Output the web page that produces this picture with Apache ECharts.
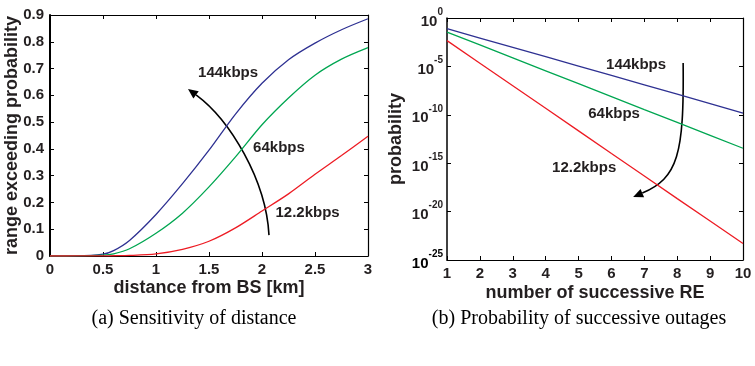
<!DOCTYPE html>
<html>
<head>
<meta charset="utf-8">
<script src="https://cdn.jsdelivr.net/npm/echarts@6/dist/echarts.min.js"></script>
<style>
html,body{margin:0;padding:0;background:#fff;}
#c{width:755px;height:366px;}
#err{position:absolute;left:0;top:340px;font:10px monospace;color:#c00;width:755px;}
</style>
</head>
<body>
<div id="c"></div>
<div id="err"></div>
<script>
window.onerror = function (m, s, l, c, e) { document.getElementById('err').textContent += ' ERR: ' + m + ' @' + l + ':' + c; };
// ---- Panel (a): range exceeding probability vs distance ----
var distKm = [0, 0.25, 0.5, 0.6, 0.75, 1, 1.25, 1.5, 1.75, 2, 2.25, 2.5, 2.75, 3];
var probA144 = [0, 0.0005, 0.007, 0.02, 0.058, 0.155, 0.27, 0.395, 0.53, 0.645, 0.733, 0.795, 0.845, 0.886];
var probA64  = [0, 0.0002, 0.003, 0.008, 0.027, 0.085, 0.16, 0.258, 0.37, 0.49, 0.59, 0.675, 0.735, 0.778];
var probA122 = [0, 0.0001, 0.0005, 0.001, 0.002, 0.008, 0.025, 0.055, 0.105, 0.168, 0.232, 0.305, 0.375, 0.447];

// ---- Panel (b): probability vs number of successive RE ----
var numRE = [1, 2, 3, 4, 5, 6, 7, 8, 9, 10];
var probB144 = [7.9e-2, 8.5e-3, 9.1e-4, 1.0e-4, 1.07e-5, 1.15e-6, 1.26e-7, 1.35e-8, 1.41e-9, 1.48e-10];
var probB64  = [3.5e-2, 1.66e-3, 7.6e-5, 3.5e-6, 1.66e-7, 7.6e-9, 3.5e-10, 1.66e-11, 7.6e-13, 3.5e-14];
var probB122 = [4.6e-3, 2.1e-5, 1.0e-7, 4.7e-10, 2.2e-12, 1.0e-14, 4.8e-17, 2.2e-19, 1.07e-21, 5.0e-24];
var logMin = 1e-25;

var seriesNames = ['144kbps', '64kbps', '12.2kbps'];
var captions = ['(a) Sensitivity of distance', '(b) Probability of successive outages'];

function pairs(xs, ys) { return xs.map(function (x, i) { return [x, ys[i]]; }); }

var colors = ['#2e3192', '#00a651', '#ed1c24'];
var FONT = "'Liberation Sans', Arial, sans-serif";
var TXT = '#231f20';

var tickStyle = { show: true, inside: true, length: 4, lineStyle: { color: '#000', width: 1 } };
function axLine(w) { return { show: true, onZero: false, lineStyle: { color: '#000', width: w || 1.2 } }; }
var lblStyle = { color: TXT, fontFamily: FONT, fontWeight: 'bold', fontSize: 15 };
var nameStyle = { color: TXT, fontFamily: FONT, fontWeight: 'bold', fontSize: 18 };
var supRich = {
  b: { color: TXT, fontFamily: FONT, fontWeight: 'bold', fontSize: 15, lineHeight: 22, verticalAlign: 'bottom' },
  s: { color: TXT, fontFamily: FONT, fontWeight: 'bold', fontSize: 10, lineHeight: 22, verticalAlign: 'top' }
};
function powLabel(e) { return '{b|10}{s|' + e + '}'; }

var chart = echarts.init(document.getElementById('c'));

var option = {
  animation: false,
  backgroundColor: '#fff',
  grid: [
    { left: 50, top: 15, width: 318, height: 241, outerBoundsMode: 'none' },
    { left: 447, top: 18, width: 296, height: 242, outerBoundsMode: 'none' }
  ],
  xAxis: [
    { gridIndex: 0, type: 'value', min: 0, max: 3, interval: 0.5, position: 'bottom',
      axisLine: axLine(), axisTick: tickStyle, splitLine: { show: false },
      axisLabel: Object.assign({ margin: 6 }, lblStyle),
      name: 'distance from BS [km]', nameLocation: 'middle', nameGap: 23, nameMoveOverlap: false, nameTextStyle: nameStyle },
    { gridIndex: 0, type: 'value', min: 0, max: 3, interval: 0.5, position: 'top',
      axisLine: axLine(), axisTick: tickStyle, splitLine: { show: false }, axisLabel: { show: false } },
    { gridIndex: 1, type: 'value', min: 1, max: 10, interval: 1, position: 'bottom',
      axisLine: axLine(), axisTick: tickStyle, splitLine: { show: false },
      axisLabel: Object.assign({ margin: 6 }, lblStyle),
      name: 'number of successive RE', nameLocation: 'middle', nameGap: 24, nameMoveOverlap: false, nameTextStyle: nameStyle },
    { gridIndex: 1, type: 'value', min: 1, max: 10, interval: 1, position: 'top',
      axisLine: axLine(), axisTick: tickStyle, splitLine: { show: false }, axisLabel: { show: false } }
  ],
  yAxis: [
    { gridIndex: 0, type: 'value', min: 0, max: 0.9, interval: 0.1, position: 'left',
      axisLine: axLine(2), axisTick: tickStyle, splitLine: { show: false },
      axisLabel: Object.assign({ margin: 6 }, lblStyle),
      name: 'range exceeding probability', nameLocation: 'middle', nameGap: 29, nameMoveOverlap: false, nameTextStyle: nameStyle },
    { gridIndex: 0, type: 'value', min: 0, max: 0.9, interval: 0.1, position: 'right',
      axisLine: axLine(), axisTick: tickStyle, splitLine: { show: false }, axisLabel: { show: false } },
    { gridIndex: 1, type: 'log', logBase: 10, min: logMin, max: 1, interval: 5, position: 'left',
      axisLine: axLine(1.5), axisTick: tickStyle, splitLine: { show: false },
      axisLabel: {
        margin: 4, showMinLabel: false,
        formatter: function (v) {
          if (!(v > 0)) return '';
          return powLabel(Math.round(Math.log(v) / Math.LN10));
        },
        rich: supRich
      },
      name: 'probability', nameLocation: 'middle', nameGap: 42, nameMoveOverlap: false, nameTextStyle: nameStyle },
    { gridIndex: 1, type: 'log', logBase: 10, min: logMin, max: 1, interval: 5, position: 'right',
      axisLine: axLine(), axisTick: tickStyle, splitLine: { show: false }, axisLabel: { show: false } }
  ],
  series: [
    { name: seriesNames[0], type: 'line', xAxisIndex: 0, yAxisIndex: 0, data: pairs(distKm, probA144), smooth: 0.3, showSymbol: false, lineStyle: { color: colors[0], width: 1.3 } },
    { name: seriesNames[1], type: 'line', xAxisIndex: 0, yAxisIndex: 0, data: pairs(distKm, probA64), smooth: 0.3, showSymbol: false, lineStyle: { color: colors[1], width: 1.3 } },
    { name: seriesNames[2], type: 'line', xAxisIndex: 0, yAxisIndex: 0, data: pairs(distKm, probA122), smooth: 0.3, showSymbol: false, lineStyle: { color: colors[2], width: 1.3 } },
    { name: seriesNames[0], type: 'line', xAxisIndex: 2, yAxisIndex: 2, data: pairs(numRE, probB144), showSymbol: false, lineStyle: { color: colors[0], width: 1.3 } },
    { name: seriesNames[1], type: 'line', xAxisIndex: 2, yAxisIndex: 2, data: pairs(numRE, probB64), showSymbol: false, lineStyle: { color: colors[1], width: 1.3 } },
    { name: seriesNames[2], type: 'line', xAxisIndex: 2, yAxisIndex: 2, data: pairs(numRE, probB122), showSymbol: false, lineStyle: { color: colors[2], width: 1.3 } }
  ]
};
try { chart.setOption(option); } catch (e) { document.getElementById('err').textContent += ' SET: ' + e.message; }

// ---- annotations anchored in data coordinates ----
var labelsA = [[1.68, 0.683], [2.16, 0.403], [2.43, 0.16]];
var arrowA = [[2.066, 0.078], [2.038, 0.284], [1.698, 0.508], [1.302, 0.624]];
var labelsB = [[6.75, -4.86], [6.08, -9.92], [5.17, -15.5]]; // x, log10(probability)
var arrowB = [[8.18, -4.65], [8.21, -14.15], [8.02, -16.5], [6.66, -18.5]];

function pA(p) { return chart.convertToPixel({ gridIndex: 0 }, p); }
function pB(p) { return chart.convertToPixel({ gridIndex: 1 }, [p[0], Math.pow(10, p[1])]); }

var graphics = [];
function addLabel(pt, text) {
  graphics.push({ type: 'text', x: pt[0], y: pt[1], style: { text: text, fill: TXT, font: 'bold 15px ' + FONT, textAlign: 'center', textVerticalAlign: 'middle' } });
}
function addArrow(pts) {
  var p0 = pts[0], p1 = pts[1], p2 = pts[2], p3 = pts[3];
  var dx = p3[0] - p2[0], dy = p3[1] - p2[1];
  var len = Math.sqrt(dx * dx + dy * dy); dx /= len; dy /= len;
  var L = 10, W = 4.5;
  var base = [p3[0] - dx * L, p3[1] - dy * L];
  graphics.push({ type: 'bezierCurve', shape: { x1: p0[0], y1: p0[1], cpx1: p1[0], cpy1: p1[1], cpx2: p2[0], cpy2: p2[1], x2: base[0], y2: base[1] },
    style: { stroke: '#000', lineWidth: 1.6, fill: null } });
  graphics.push({ type: 'polygon', shape: { points: [p3, [base[0] - dy * W, base[1] + dx * W], [base[0] + dy * W, base[1] - dx * W]] }, style: { fill: '#000' } });
}
try {
  for (var i = 0; i < 3; i++) { addLabel(pA(labelsA[i]), seriesNames[i]); addLabel(pB(labelsB[i]), seriesNames[i]); }
  addArrow(arrowA.map(pA));
  addArrow(arrowB.map(pB));
  // bottom (minimum) tick label of the log axis
  var pm = chart.convertToPixel({ gridIndex: 1 }, [1, logMin]);
  graphics.push({ type: 'text', x: pm[0] - 4, y: pm[1], style: { text: powLabel(Math.round(Math.log(logMin) / Math.LN10)), rich: supRich, textAlign: 'right', textVerticalAlign: 'middle' } });
} catch (e) { document.getElementById('err').textContent += ' ANN: ' + e.message; }

graphics.push({ type: 'text', x: 194, y: 319, style: { text: captions[0], fill: '#000', font: "20px 'Liberation Serif', serif", textAlign: 'center', textVerticalAlign: 'middle' } });
graphics.push({ type: 'text', x: 579, y: 319, style: { text: captions[1], fill: '#000', font: "20px 'Liberation Serif', serif", textAlign: 'center', textVerticalAlign: 'middle' } });

chart.setOption({ graphic: graphics });
</script>
</body>
</html>
